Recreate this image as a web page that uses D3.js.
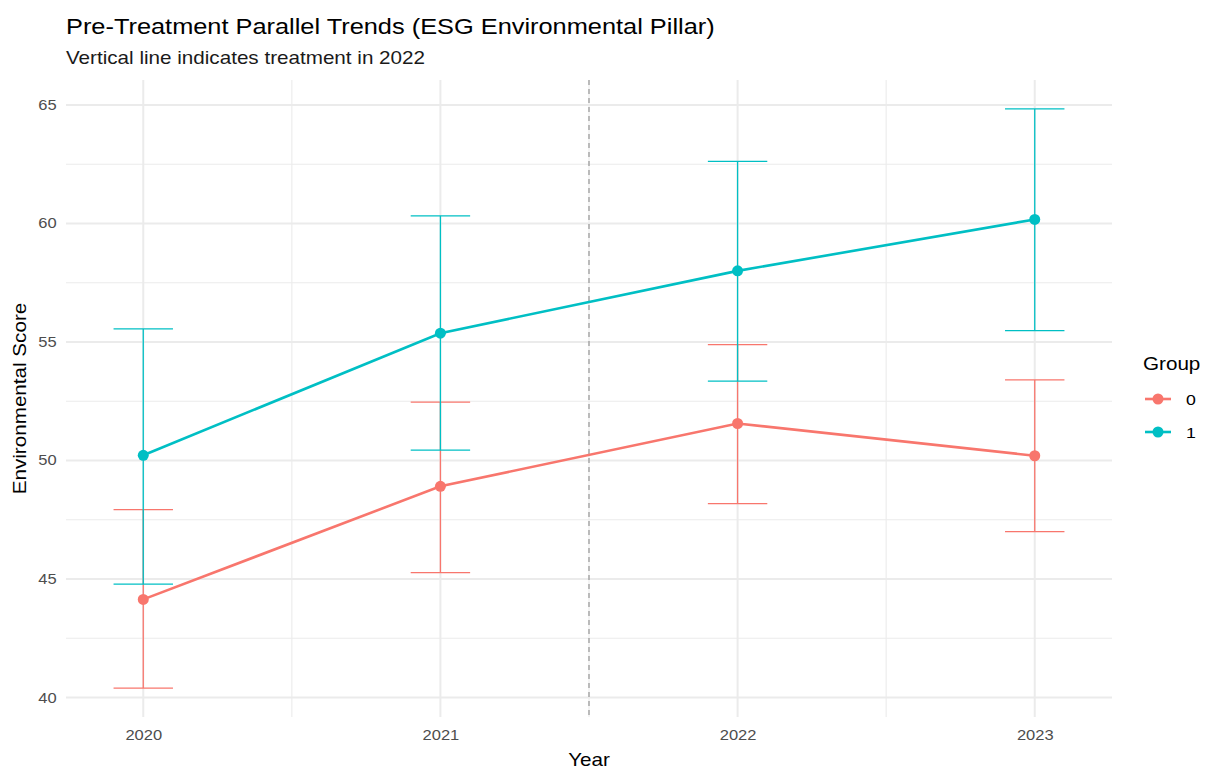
<!DOCTYPE html>
<html>
<head>
<meta charset="utf-8">
<script src="https://cdn.jsdelivr.net/npm/d3@7"></script>
<style>
  html, body { margin: 0; padding: 0; background: #ffffff; }
  svg { display: block; font-family: "Liberation Sans", Arial, sans-serif; }
</style>
</head>
<body>
<svg id="chart" width="1209" height="771"></svg>
<script>
// Yearly group means with 95% interval bounds
const years = [2020, 2021, 2022, 2023];
const groups = ["0", "1"];
const mean0 = [44.14, 48.91, 51.56, 50.20];
const lower0 = [40.40, 45.27, 48.18, 47.00];
const upper0 = [47.93, 52.46, 54.89, 53.40];
const mean1 = [50.22, 55.37, 58.00, 60.17];
const lower1 = [44.78, 50.44, 53.35, 55.48];
const upper1 = [55.55, 60.32, 62.62, 64.83];
const yTicks = [40, 45, 50, 55, 60, 65];
const yMinor = [42.5, 47.5, 52.5, 57.5, 62.5];
const xTicks = [2020, 2021, 2022, 2023];
const xMinor = [2020.5, 2021.5, 2022.5];
const treatmentLine = 2021.5;

const colors = { "0": "#F8766D", "1": "#00BFC4" };
const series = [
  { group: "0", mean: mean0, lower: lower0, upper: upper0 },
  { group: "1", mean: mean1, lower: lower1, upper: upper1 }
];

const svg = d3.select("#chart");
const panel = { left: 66, right: 1112, top: 80, bottom: 717 };
const capHalf = 0.1;   // error bar cap half-width in years
const textWiden = 1.18; // horizontal glyph stretch for all text

// Domains with 5% padding on each side
const xLo = d3.min(years) - capHalf, xHi = d3.max(years) + capHalf;
const xPad = (xHi - xLo) * 0.05;
const allLo = d3.min([...lower0, ...lower1]);
const allHi = d3.max([...upper0, ...upper1]);
const yPad = (allHi - allLo) * 0.05;

const x = d3.scaleLinear().domain([xLo - xPad, xHi + xPad]).range([panel.left, panel.right]);
const y = d3.scaleLinear().domain([allLo - yPad, allHi + yPad]).range([panel.bottom, panel.top]);

// Text helper: positioned via transform, widened horizontally
function label(parent, tx, ty, str, size, opts = {}) {
  const rot = opts.rotate ? ` rotate(${opts.rotate})` : "";
  return parent.append("text")
    .attr("transform", `translate(${tx},${ty})${rot} scale(${textWiden},1)`)
    .attr("text-anchor", opts.anchor || "start")
    .attr("fill", opts.fill || "#000")
    .style("font-size", size + "px")
    .text(str);
}

const grid = svg.append("g");
// minor grid
grid.selectAll("line.ymin").data(yMinor).join("line")
  .attr("x1", panel.left).attr("x2", panel.right)
  .attr("y1", d => y(d)).attr("y2", d => y(d))
  .attr("stroke", "#ebebeb").attr("stroke-width", 1.1);
grid.selectAll("line.xmin").data(xMinor).join("line")
  .attr("y1", panel.top).attr("y2", panel.bottom)
  .attr("x1", d => x(d)).attr("x2", d => x(d))
  .attr("stroke", "#ebebeb").attr("stroke-width", 1.1);
// major grid
grid.selectAll("line.ymaj").data(yTicks).join("line")
  .attr("x1", panel.left).attr("x2", panel.right)
  .attr("y1", d => y(d)).attr("y2", d => y(d))
  .attr("stroke", "#ebebeb").attr("stroke-width", 2);
grid.selectAll("line.xmaj").data(xTicks).join("line")
  .attr("y1", panel.top).attr("y2", panel.bottom)
  .attr("x1", d => x(d)).attr("x2", d => x(d))
  .attr("stroke", "#ebebeb").attr("stroke-width", 2);

// Axes (labels only, no domain/ticks drawn)
const yAxis = svg.append("g")
  .attr("transform", `translate(${panel.left},0)`)
  .call(d3.axisLeft(y).tickValues(yTicks).tickSize(0).tickPadding(8).tickFormat(d3.format("d")));
yAxis.select(".domain").remove();
yAxis.selectAll("text").attr("fill", "#4d4d4d").style("font-size", "14px")
  .style("font-family", "'Liberation Sans', Arial, sans-serif")
  .attr("transform", `scale(${textWiden},1)`);

const xAxis = svg.append("g")
  .attr("transform", `translate(0,${panel.bottom})`)
  .call(d3.axisBottom(x).tickValues(xTicks).tickSize(0).tickPadding(13).tickFormat(d3.format("d")));
xAxis.select(".domain").remove();
xAxis.selectAll("text").attr("fill", "#4d4d4d").style("font-size", "14px")
  .style("font-family", "'Liberation Sans', Arial, sans-serif")
  .attr("transform", `scale(${textWiden},1)`);

// Treatment marker
svg.append("line")
  .attr("x1", x(treatmentLine)).attr("x2", x(treatmentLine))
  .attr("y1", panel.top).attr("y2", panel.bottom)
  .attr("stroke", "#8c8c8c").attr("stroke-width", 1.1)
  .attr("stroke-dasharray", "5,4");

// Error bars
series.forEach(s => {
  const g = svg.append("g").attr("stroke", colors[s.group]).attr("stroke-width", 1.3).attr("fill", "none");
  years.forEach((yr, i) => {
    g.append("line").attr("x1", x(yr)).attr("x2", x(yr)).attr("y1", y(s.lower[i])).attr("y2", y(s.upper[i]));
    g.append("line").attr("x1", x(yr - capHalf)).attr("x2", x(yr + capHalf)).attr("y1", y(s.lower[i])).attr("y2", y(s.lower[i]));
    g.append("line").attr("x1", x(yr - capHalf)).attr("x2", x(yr + capHalf)).attr("y1", y(s.upper[i])).attr("y2", y(s.upper[i]));
  });
});

// Lines and points
const line = d3.line().x(d => x(d[0])).y(d => y(d[1]));
series.forEach(s => {
  const pts = years.map((yr, i) => [yr, s.mean[i]]);
  svg.append("path").datum(pts).attr("d", line)
    .attr("fill", "none").attr("stroke", colors[s.group]).attr("stroke-width", 2.6);
  svg.append("g").selectAll("circle").data(pts).join("circle")
    .attr("cx", d => x(d[0])).attr("cy", d => y(d[1])).attr("r", 5.5)
    .attr("fill", colors[s.group]);
});

// Titles
label(svg, 66, 34, "Pre-Treatment Parallel Trends (ESG Environmental Pillar)", 21.5);
label(svg, 66, 64, "Vertical line indicates treatment in 2022", 17.5, { fill: "#1a1a1a" });
label(svg, (panel.left + panel.right) / 2, 766, "Year", 17.5, { anchor: "middle" });
label(svg, 26, (panel.top + panel.bottom) / 2, "Environmental Score", 17.5, { anchor: "middle", rotate: -90 });

// Legend
const leg = svg.append("g").attr("transform", "translate(1143,0)");
label(leg, 0, 370, "Group", 17.5);
groups.forEach((gname, i) => {
  const cy = 399 + i * 33;
  leg.append("line").attr("x1", 2).attr("x2", 28).attr("y1", cy).attr("y2", cy)
    .attr("stroke", colors[gname]).attr("stroke-width", 2.6);
  leg.append("circle").attr("cx", 15).attr("cy", cy).attr("r", 5.5).attr("fill", colors[gname]);
  label(leg, 43, cy + 6, gname, 15);
});
</script>
</body>
</html>
